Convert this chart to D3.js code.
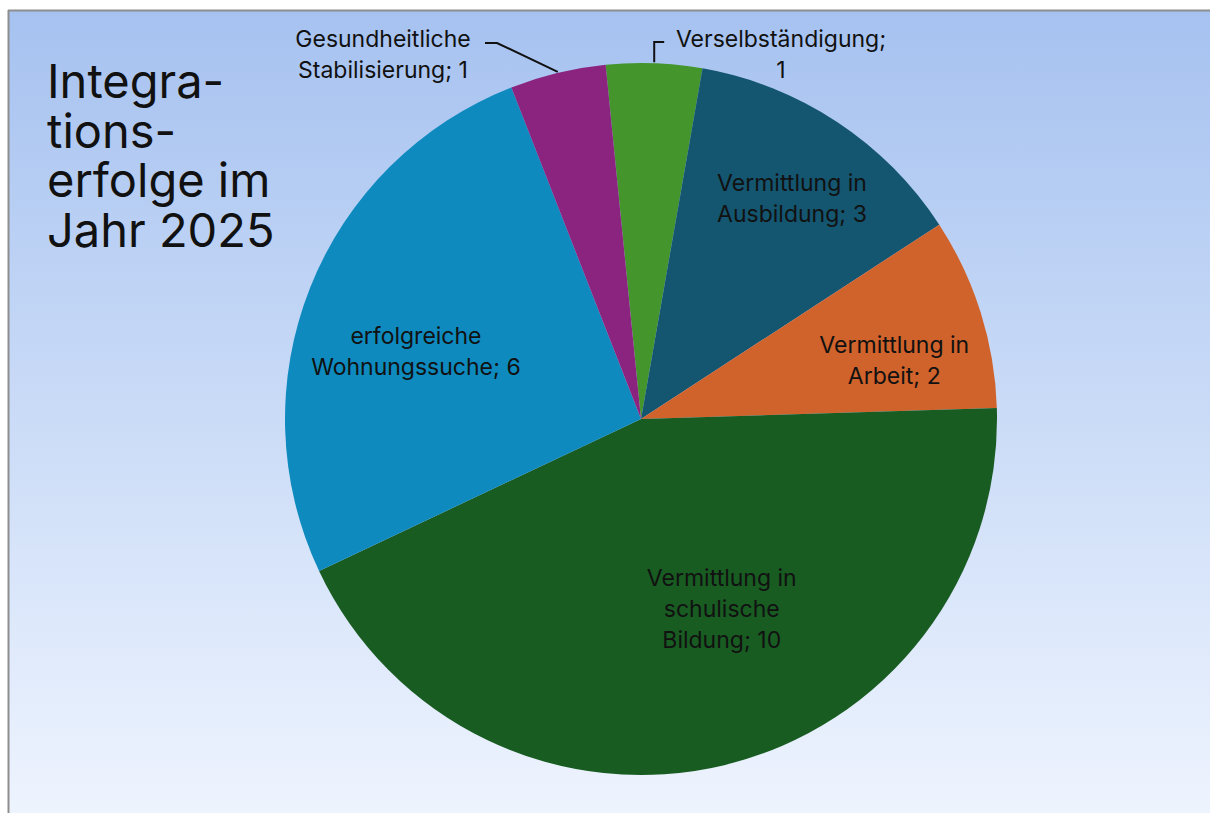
<!doctype html>
<html>
<head>
<meta charset="utf-8">
<script src="https://d3js.org/d3.v7.min.js"></script>
<style>
  html, body { margin: 0; padding: 0; background: #fff; }
  text { font-family: Inter, "Open Sans", "DejaVu Sans", sans-serif; }
</style>
</head>
<body>
<script>
// chart data
var categories = ["Verselbständigung", "Vermittlung in Ausbildung", "Vermittlung in Arbeit",
                  "Vermittlung in schulische Bildung", "erfolgreiche Wohnungssuche", "Gesundheitliche Stabilisierung"];
var values = [1, 3, 2, 10, 6, 1];
var labelLines = [
    ["Verselbständigung;", "1"],
    ["Vermittlung in", "Ausbildung; 3"],
    ["Vermittlung in", "Arbeit; 2"],
    ["Vermittlung in", "schulische", "Bildung; 10"],
    ["erfolgreiche", "Wohnungssuche; 6"],
    ["Gesundheitliche", "Stabilisierung; 1"]
];
var colors = ["#44962c", "#145570", "#d0622c", "#185c22", "#0e8abe", "#8b247f"];
var titleLines = ["Integra-", "tions-", "erfolge im", "Jahr 2025"];

var width = 1210, height = 813;
var cx = 641, cy = 419, radius = 356;

var svg = d3.select("body").append("svg")
    .attr("width", width)
    .attr("height", height);

// background gradient
var grad = svg.append("defs").append("linearGradient")
    .attr("id", "bg").attr("x1", 0).attr("y1", 0).attr("x2", 0).attr("y2", 1);
grad.append("stop").attr("offset", "0%").attr("stop-color", "#a6c2f0");
grad.append("stop").attr("offset", "100%").attr("stop-color", "#eef4fe");

svg.append("rect")
    .attr("x", 9).attr("y", 11)
    .attr("width", width - 9).attr("height", height - 11)
    .attr("fill", "url(#bg)");
// frame (top and left edge)
svg.append("line").attr("x1", 8).attr("x2", width).attr("y1", 10.5).attr("y2", 10.5)
    .attr("stroke", "#8e8e8e").attr("stroke-width", 2);
svg.append("line").attr("x1", 8.5).attr("x2", 8.5).attr("y1", 10).attr("y2", height)
    .attr("stroke", "#8e8e8e").attr("stroke-width", 2);

// title, one text per line
svg.selectAll(".title")
    .data(titleLines)
    .enter().append("text")
    .attr("class", "title")
    .attr("x", 47)
    .attr("y", function(d, i) { return 98 + i * 49.7; })
    .attr("font-size", "47px")
    .attr("fill", "#111")
    .text(function(d) { return d; });

// pie
var startAngle = -5.7 * Math.PI / 180;
var pie = d3.pie().sort(null).value(function(d) { return d; })
    .startAngle(startAngle).endAngle(startAngle + 2 * Math.PI);
var arcs = pie(values);
var arc = d3.arc().innerRadius(0).outerRadius(radius);

var g = svg.append("g").attr("transform", "translate(" + cx + "," + cy + ")");

g.selectAll("path")
    .data(arcs)
    .enter().append("path")
    .attr("d", arc)
    .attr("fill", function(d, i) { return colors[i]; });

// label placement: radius as fraction of pie radius + angle nudge (deg); outside labels use leaders
var labelLayout = [
    { outside: true, pos: [140, -365] },
    { r: 0.75, da: 1, outside: false },
    { r: 0.73, da: 4.5, outside: false },
    { r: 0.58, da: -9.5, outside: false },
    { r: 0.66, da: -5, outside: false },
    { outside: true, pos: [-258, -365] }
];
var lineH = 31;

arcs.forEach(function(d, i) {
    var L = labelLayout[i];
    var lx, ly;
    if (L.outside) {
        lx = L.pos[0]; ly = L.pos[1];
    } else {
        var a = (d.startAngle + d.endAngle) / 2 + L.da * Math.PI / 180;
        lx = Math.sin(a) * radius * L.r;
        ly = -Math.cos(a) * radius * L.r;
    }
    var lines = labelLines[i];
    var t = g.append("text")
        .attr("text-anchor", "middle")
        .attr("font-size", "23px")
        .attr("fill", "#111");
    lines.forEach(function(s, k) {
        t.append("tspan")
            .attr("x", lx)
            .attr("y", ly + (k - (lines.length - 1) / 2) * lineH + 8)
            .text(s);
    });
});

// leader lines for the two small slices
function edgePoint(d) {
    var a = (d.startAngle + d.endAngle) / 2;
    return [Math.sin(a) * radius, -Math.cos(a) * radius];
}
var vEdge = edgePoint(arcs[0]);
g.append("path")
    .attr("d", "M" + vEdge[0] + "," + (vEdge[1] - 1) + "V" + (-377) + "H" + (vEdge[0] + 10))
    .attr("fill", "none").attr("stroke", "#111").attr("stroke-width", 2);

var gEdge = edgePoint(arcs[5]);
g.append("path")
    .attr("d", "M" + gEdge[0] + "," + (gEdge[1] - 1) + "L" + (-144) + "," + (-376) + "H" + (-156))
    .attr("fill", "none").attr("stroke", "#111").attr("stroke-width", 2);
</script>
</body>
</html>
